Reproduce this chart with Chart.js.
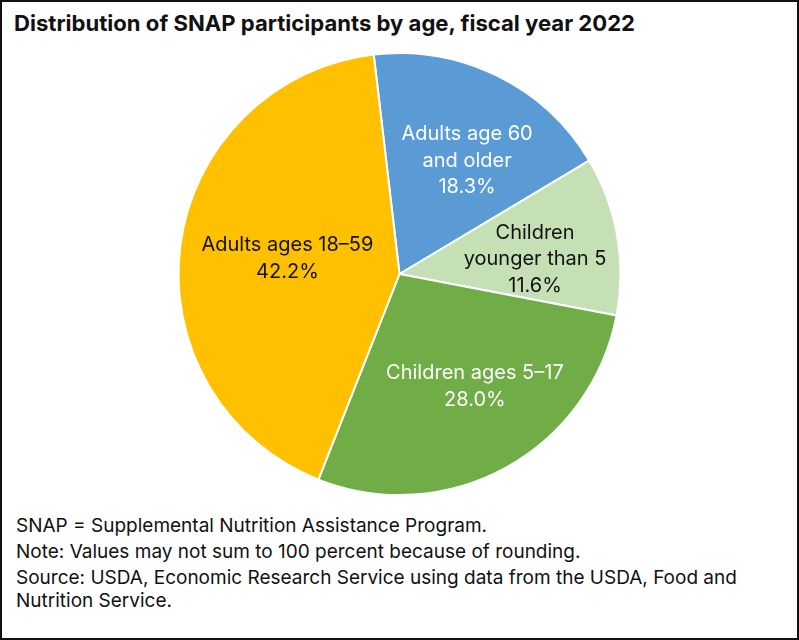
<!DOCTYPE html>
<html>
<head>
<meta charset="utf-8">
<script src="https://cdn.jsdelivr.net/npm/chart.js@4"></script>
<style>
  html, body { margin: 0; padding: 0; background: #fff; }
  #frame {
    position: relative; width: 795px; height: 636px;
    border: 2px solid #111; background: #fff; overflow: hidden;
    font-family: Inter, "Open Sans", sans-serif; color: #111;
  }
  #title {
    position: absolute; left: 12px; top: 8px;
    font-family: Inter, Roboto, sans-serif; font-weight: 700; font-size: 22.1px;
    line-height: 26px;
  }
  #chartBox { position: absolute; left: -2px; top: 50px; width: 799px; height: 444px; }
  .note { position: absolute; left: 14px; font-size: 19px; line-height: 23px; }
</style>
</head>
<body>
<div id="frame">
  <div id="title">Distribution of SNAP participants by age, fiscal year 2022</div>
  <div id="chartBox"><canvas id="grafico"></canvas></div>
  <div class="note" style="top:512px">SNAP = Supplemental Nutrition Assistance Program.</div>
  <div class="note" style="top:538px">Note: Values may not sum to 100 percent because of rounding.</div>
  <div class="note" style="top:564px">Source: USDA, Economic Research Service using data from the USDA, Food and<br>Nutrition Service.</div>
</div>
<script>
// Dados do gráfico (em sentido horário a partir do topo)
const categorias = [
  ['Adults age 60', 'and older'],
  ['Children', 'younger than 5'],
  ['Children ages 5–17'],
  ['Adults ages 18–59']
];
const percentuais = [18.3, 11.6, 28.0, 42.2];

// Estilos
const cores = ['#5B9BD5', '#C5E0B4', '#70AD47', '#FFC000'];
const coresTexto = ['#ffffff', '#111111', '#ffffff', '#111111'];
// ajuste do rótulo: deslocamento angular (graus) e fração do raio
const ajusteAngulo = [4.6, 3.8, -5.0, 0.5];
const ajusteRaio = [0.597, 0.617, 0.613, 0.512];

// Plugin para escrever os rótulos dentro das fatias
const rotulosPlugin = {
  id: 'rotulos',
  afterDatasetsDraw(chart) {
    const ctx = chart.ctx;
    const meta = chart.getDatasetMeta(0);
    ctx.save();
    ctx.font = '20px Inter, "Open Sans", sans-serif';
    ctx.textAlign = 'center';
    ctx.textBaseline = 'middle';
    meta.data.forEach((arc, i) => {
      const mid = (arc.startAngle + arc.endAngle) / 2 + ajusteAngulo[i] * Math.PI / 180;
      const r = arc.outerRadius * ajusteRaio[i];
      const x = arc.x + Math.cos(mid) * r;
      const y = arc.y + Math.sin(mid) * r;
      const linhas = [...categorias[i], percentuais[i].toFixed(1) + '%'];
      const alt = 26.5;
      const y0 = y - (linhas.length - 1) * alt / 2;
      ctx.fillStyle = coresTexto[i];
      linhas.forEach((l, k) => ctx.fillText(l, x, y0 + k * alt));
    });
    ctx.restore();
  }
};

new Chart(document.getElementById('grafico'), {
  type: 'pie',
  data: {
    labels: categorias.map(c => c.join(' ')),
    datasets: [{
      data: percentuais,
      backgroundColor: cores,
      borderColor: '#ffffff',
      borderWidth: 2
    }]
  },
  options: {
    responsive: true,
    maintainAspectRatio: false,
    animation: false,
    rotation: -6.7,
    layout: { padding: 0 },
    plugins: {
      legend: { display: false },
      tooltip: { enabled: false }
    }
  },
  plugins: [rotulosPlugin]
});
</script>
</body>
</html>
